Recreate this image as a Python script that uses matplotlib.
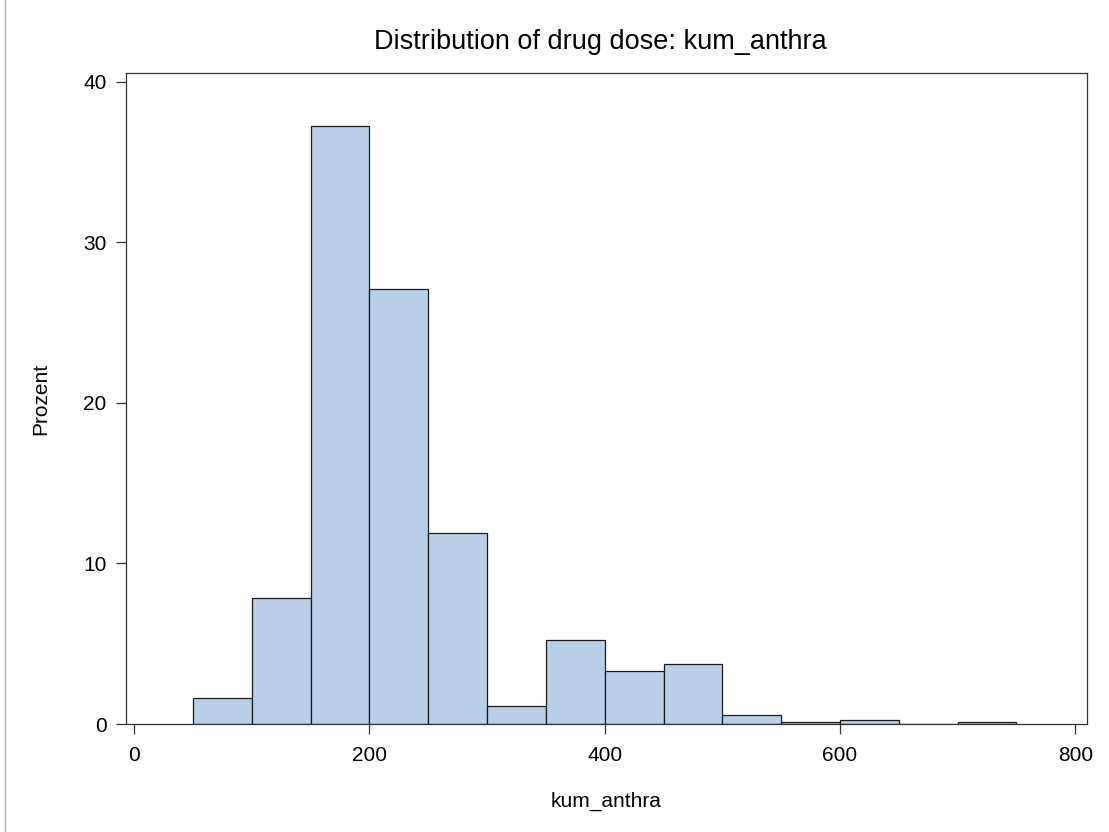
import numpy as np
import matplotlib as mpl
from matplotlib import pyplot as plt

# histogram of cumulative anthracycline dose, bins of width 50
bin_left = [50, 100, 150, 200, 250, 300, 350, 400, 450, 500, 550, 600, 650, 700]
percent = [1.6, 7.85, 37.25, 27.1, 11.9, 1.1, 5.26, 3.3, 3.72, 0.58, 0.15, 0.25, 0.0, 0.15]
bin_width = 50
x_ticks = [0, 200, 400, 600, 800]
y_ticks = [0, 10, 20, 30, 40]

plt.rcParams['font.family'] = ['Liberation Sans', 'DejaVu Sans']

fig = plt.figure(figsize=(11.09, 8.32), dpi=100)
ax = fig.add_axes([0.1136, 0.1298, 0.8666, 0.7825])

ax.bar(bin_left, percent, width=bin_width, align='edge',
       color='#b9cfe7', edgecolor='#1a1a1a', linewidth=0.9)

ax.set_xlim(-7, 810)
ax.set_ylim(0, 40.56)
ax.set_xticks(x_ticks)
ax.set_yticks(y_ticks)
ax.tick_params(axis='both', direction='out', length=7, width=0.9,
               labelsize=15, color='#333333', pad=7)
ax.tick_params(axis='x', pad=9)
for side in ax.spines.values():
    side.set_color('#333333')
    side.set_linewidth(0.9)

ax.set_xlabel('kum_anthra', fontsize=15, labelpad=19)
ax.set_ylabel('Prozent', fontsize=15, labelpad=24)
ax.set_title('Distribution of drug dose: kum_anthra', fontsize=19.5, pad=17, x=0.494)

# thin page border on the left
fig.add_artist(mpl.lines.Line2D([0.0045, 0.0045], [0, 1], color='#aaaaaa', linewidth=1))

fig.savefig('out.png', dpi=100)
